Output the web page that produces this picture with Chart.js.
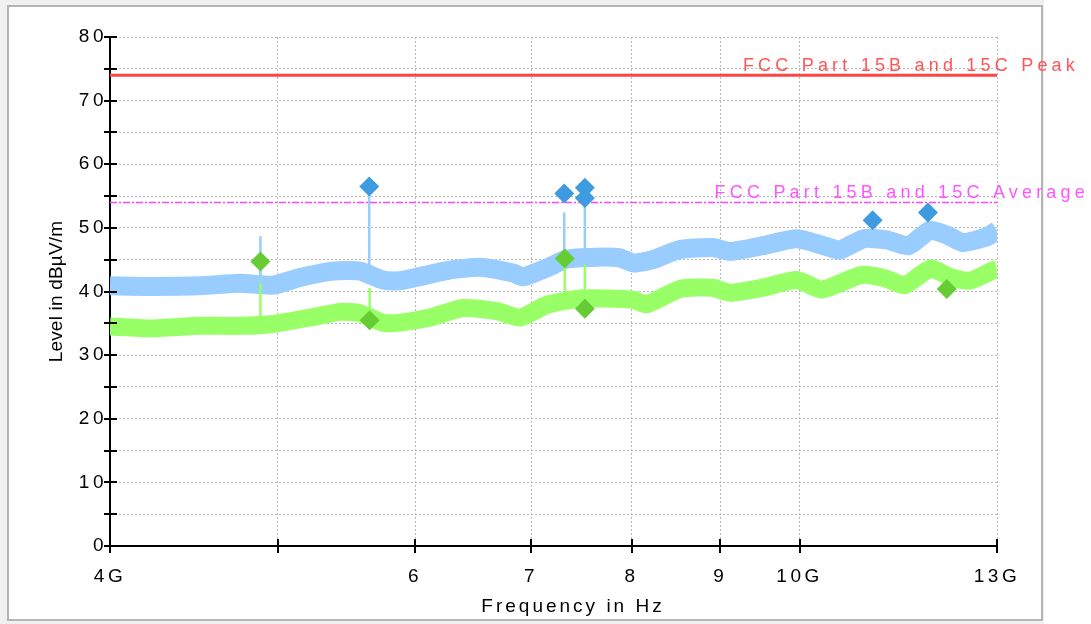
<!DOCTYPE html>
<html>
<head>
<meta charset="utf-8">
<title>Radiated emission 4 - 13 GHz</title>
<script src="https://cdn.jsdelivr.net/npm/chart.js@4.4.1/dist/chart.umd.min.js"></script>
<style>
  html, body { margin: 0; padding: 0; background: #fff; }
  #wrap { position: relative; width: 1091px; height: 624px; overflow: hidden; }
  #back { position: absolute; left: 0; top: 0; width: 1044px; height: 624px; background: #f0f0f0; }
  #frame { position: absolute; left: 7px; top: 5px; width: 1036px; height: 616px;
           box-sizing: border-box; border: 2px solid #b4b4b4; background: #fff; }
  canvas { position: absolute; left: 0; top: 0; }
</style>
</head>
<body>
<div id="wrap">
  <div id="back"></div>
  <div id="frame"></div>
  <canvas id="emissionChart" width="1091" height="624"></canvas>
</div>
<script>
// peak detector trace (GHz / dBµV/m), centre of the noise band
const peakFreq  = [4.000, 4.218, 4.508, 4.754, 4.967, 5.149, 5.380, 5.576, 5.749, 5.880, 5.983,
                   6.259, 6.540, 6.833, 6.924, 7.148, 7.341, 7.639, 7.876, 8.014, 8.229, 8.530,
                   8.912, 9.116, 9.525, 9.965, 10.41, 10.55, 10.89, 11.23, 11.56, 11.89, 12.16,
                   12.42, 12.83, 13.00];
const peakLevel = [40.9, 40.8, 40.9, 41.3, 41.0, 42.2, 43.2, 43.2, 41.8, 41.7, 42.1,
                   43.3, 43.8, 42.9, 42.3, 43.7, 45.1, 45.4, 45.3, 44.5, 45.0, 46.6,
                   46.9, 46.3, 47.2, 48.3, 46.9, 46.5, 48.3, 48.1, 47.2, 49.6, 48.9,
                   47.7, 48.6, 49.6];

// average detector trace
const avgFreq  = [4.000, 4.218, 4.508, 4.754, 4.967, 5.266, 5.430, 5.576, 5.749, 5.880, 6.120,
                  6.394, 6.689, 6.896, 7.148, 7.469, 7.741, 8.014, 8.164, 8.530, 8.912, 9.116,
                  9.525, 9.965, 10.30, 10.86, 11.20, 11.50, 11.90, 12.21, 12.54, 12.95, 13.00];
const avgLevel = [34.5, 34.2, 34.6, 34.6, 34.9, 36.1, 36.8, 36.6, 35.1, 35.1, 35.9,
                  37.4, 36.9, 35.9, 37.9, 38.9, 38.9, 38.7, 38.0, 40.4, 40.6, 39.8,
                  40.6, 41.8, 40.3, 42.6, 42.1, 41.0, 43.6, 42.3, 41.7, 43.4, 43.5];

// narrow spurs sticking out of the traces
const peakSpurFreq = [4.885, 5.645, 7.315, 7.518];
const peakSpurBase = [41.2, 43.0, 45.0, 45.4];
const peakSpurTop  = [48.7, 56.5, 52.4, 54.7];
const avgSpurFreq  = [4.885, 5.648, 7.320, 7.518];
const avgSpurBase  = [34.8, 36.0, 38.5, 39.0];
const avgSpurTop   = [44.7, 40.6, 45.2, 44.2];

// final measurement points
const peakMarkFreq  = [5.645, 7.315, 7.518, 7.518, 11.02, 11.86];
const peakMarkLevel = [56.5, 55.4, 56.3, 54.7, 51.2, 52.4];
const avgMarkFreq   = [4.885, 5.648, 7.320, 7.518, 12.16];
const avgMarkLevel  = [44.7, 35.5, 45.2, 37.3, 40.4];

// limits
const peakLimit = 74;
const avgLimit = 54;
const peakLimitName = "FCC Part 15B and 15C Peak";
const avgLimitName = "FCC Part 15B and 15C Average";

const xTickValues = [4, 5, 6, 7, 8, 9, 10, 13];
const xTickLabels = ["4G", "", "6", "7", "8", "9", "10G", "13G"];

const FONT = '"Liberation Sans", Arial, sans-serif';
Chart.defaults.font.family = FONT;
Chart.defaults.color = "#000";

const toPoints = (xs, ys) => xs.map((x, i) => ({ x, y: ys[i] }));
const spurPoints = (xs, lo, hi) => {
  const pts = [];
  xs.forEach((x, i) => {
    pts.push({ x, y: lo[i] }, { x, y: hi[i] }, { x, y: null });
  });
  return pts;
};

// axis tick marks crossing the axes, axis titles and limit captions
const axisDecor = {
  id: "axisDecor",
  beforeDraw(chart) {
    chart.ctx.letterSpacing = "3.5px";
  },
  afterDraw(chart) {
    const { ctx, chartArea: a, scales: { x, y } } = chart;
    ctx.save();
    ctx.strokeStyle = "#000";
    ctx.lineWidth = 2;
    ctx.beginPath();
    for (let v = 0; v <= 80; v += 5) {
      const py = Math.round(y.getPixelForValue(v));
      ctx.moveTo(a.left - 6, py);
      ctx.lineTo(a.left + 7, py);
    }
    xTickValues.forEach(v => {
      const px = Math.round(x.getPixelForValue(v));
      ctx.moveTo(px, a.bottom - 7);
      ctx.lineTo(px, a.bottom + 7);
    });
    ctx.stroke();

    ctx.fillStyle = "#000";
    ctx.font = "19px " + FONT;
    ctx.textAlign = "center";
    ctx.textBaseline = "middle";
    ctx.letterSpacing = "3px";
    ctx.fillText("Frequency in Hz", 573, a.bottom + 61);

    ctx.save();
    ctx.translate(57, (a.top + a.bottom) / 2);
    ctx.rotate(-Math.PI / 2);
    ctx.letterSpacing = "0.2px";
    ctx.fillText("Level in dBµV/m", 0, 0);
    ctx.restore();

    ctx.font = "18px " + FONT;
    ctx.textAlign = "right";
    ctx.textBaseline = "alphabetic";
    ctx.letterSpacing = "4.2px";
    ctx.fillStyle = "#ff5555";
    ctx.fillText(peakLimitName, a.right + 82, y.getPixelForValue(peakLimit) - 4);
    ctx.fillStyle = "#ff55ff";
    ctx.fillText(avgLimitName, a.right + 92, y.getPixelForValue(avgLimit) - 4);
    ctx.restore();
    ctx.letterSpacing = "0px";
  }
};

new Chart(document.getElementById("emissionChart"), {
  type: "line",
  data: {
    datasets: [
      {
        label: "Peak final",
        data: toPoints(peakMarkFreq, peakMarkLevel),
        showLine: false,
        pointStyle: "rectRot",
        pointRadius: 10,
        pointBorderWidth: 0,
        backgroundColor: "#3f9be0",
        borderColor: "#3f9be0",
        order: 0
      },
      {
        label: "Average final",
        data: toPoints(avgMarkFreq, avgMarkLevel),
        showLine: false,
        pointStyle: "rectRot",
        pointRadius: 10,
        pointBorderWidth: 0,
        backgroundColor: "#66cc33",
        borderColor: "#66cc33",
        order: 0
      },
      {
        label: peakLimitName,
        data: [{ x: 4, y: peakLimit }, { x: 13, y: peakLimit }],
        borderColor: "#ff4444",
        borderWidth: 3,
        pointRadius: 0,
        order: 1
      },
      {
        label: avgLimitName,
        data: [{ x: 4, y: avgLimit }, { x: 13, y: avgLimit }],
        borderColor: "#ff44ff",
        borderWidth: 1.5,
        borderDash: [7, 2, 2, 2],
        pointRadius: 0,
        order: 1
      },
      {
        label: "Peak spurs",
        data: spurPoints(peakSpurFreq, peakSpurBase, peakSpurTop),
        borderColor: "#99ccff",
        borderWidth: 2.5,
        pointRadius: 0,
        spanGaps: false,
        order: 2
      },
      {
        label: "Average spurs",
        data: spurPoints(avgSpurFreq, avgSpurBase, avgSpurTop),
        borderColor: "#99ff66",
        borderWidth: 2.5,
        pointRadius: 0,
        spanGaps: false,
        order: 2
      },
      {
        label: "Peak",
        data: toPoints(peakFreq, peakLevel),
        borderColor: "#99ccff",
        borderWidth: 19,
        borderCapStyle: "butt",
        borderJoinStyle: "round",
        tension: 0.2,
        pointRadius: 0,
        order: 3
      },
      {
        label: "Average",
        data: toPoints(avgFreq, avgLevel),
        borderColor: "#99ff66",
        borderWidth: 18,
        borderCapStyle: "butt",
        borderJoinStyle: "round",
        tension: 0.2,
        pointRadius: 0,
        order: 4
      }
    ]
  },
  options: {
    responsive: false,
    animation: false,
    layout: { padding: { top: 37, right: 94, left: 0, bottom: 0 } },
    plugins: {
      legend: { display: false },
      tooltip: { enabled: false }
    },
    scales: {
      x: {
        type: "logarithmic",
        min: 4,
        max: 13,
        afterBuildTicks: s => { s.ticks = xTickValues.map(v => ({ value: v })); },
        afterFit: s => { s.height = 78; },
        grid: { color: "#b8b8b8", lineWidth: 1, drawTicks: false },
        border: { color: "#000", width: 2, dash: [2, 2] },
        ticks: {
          autoSkip: false,
          maxRotation: 0,
          padding: 19,
          font: { size: 19 },
          callback: v => xTickLabels[xTickValues.indexOf(v)] ?? ""
        }
      },
      y: {
        min: 0,
        max: 80,
        afterFit: s => { s.width = 110; },
        grid: { color: "#b8b8b8", lineWidth: 1, drawTicks: false },
        border: { color: "#000", width: 2, dash: [2, 2] },
        ticks: {
          stepSize: 5,
          padding: 3,
          font: { size: 19 },
          callback: v => (v % 10 === 0 ? String(v) : "")
        }
      }
    }
  },
  plugins: [axisDecor]
});
</script>
</body>
</html>
